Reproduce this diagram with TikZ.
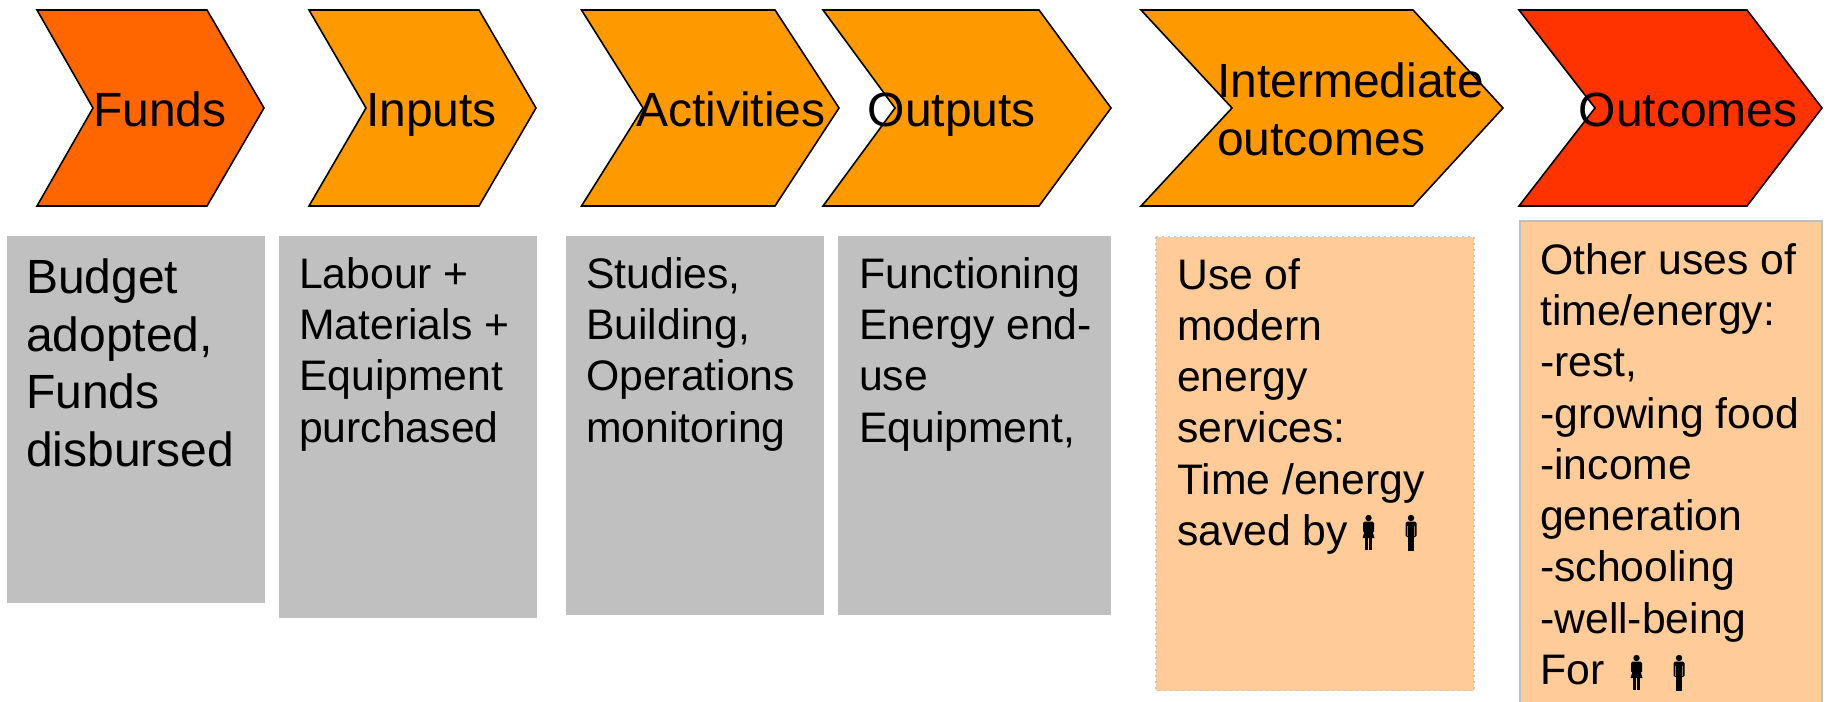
\documentclass[tikz,border=0pt]{standalone}
\usepackage{fontspec}
\setmainfont{Liberation Sans}
\definecolor{fundsfill}{HTML}{FF6600}
\definecolor{midfill}{HTML}{FF9900}
\definecolor{endfill}{HTML}{FF3300}
\definecolor{panelgray}{HTML}{C0C0C0}
\definecolor{panelpeach}{HTML}{FFCC99}
\definecolor{dotline}{HTML}{C4C4CC}
\tikzset{
  chev/.style={draw=black,line width=1.6pt,line join=miter},
  bigtext/.style={anchor=base west,inner sep=0pt,align=left,font=\fontsize{48}{57.5}\selectfont},
  smalltext/.style={anchor=base west,inner sep=0pt,align=left,font=\fontsize{42.7}{51.3}\selectfont},
  graybox/.style={fill=panelgray},
  peachbox/.style={fill=panelpeach},
  womanicon/.pic={
    \fill[black] (0,0) circle (3.2);
    \fill[black,rounded corners=1.5] (-5.5,3.7) rectangle (5.5,15);
    \fill[black] (-3.5,12) -- (3.5,12) -- (6,20) -- (-6,20) -- cycle;
    \fill[black] (-3.4,19) rectangle (-0.5,32);
    \fill[black] (0.5,19) rectangle (3.4,32);
  },
  manicon/.pic={
    \fill[black] (0,0) circle (3.2);
    \fill[black,rounded corners=1.5] (-5.5,3.7) rectangle (5.5,19);
    \fill[black] (-3.4,15) rectangle (-0.4,32.5);
    \fill[black] (0.4,15) rectangle (3.4,32.5);
    \draw[panelpeach!60!black,line width=.6pt] (-3.6,8) -- (-3.6,18) (3.6,8) -- (3.6,18);
  }
}
\begin{document}
\begin{tikzpicture}[x=1pt,y=-1pt]
\useasboundingbox (0,0) rectangle (1827,701);
\clip (0,0) rectangle (1827,701);
% chevrons
\path[chev,fill=fundsfill] (37,10) -- (207,10) -- (264,108) -- (207,206) -- (37,206) -- (93,108) -- cycle;
\path[chev,fill=midfill] (309,10) -- (479,10) -- (536,108) -- (479,206) -- (309,206) -- (366,108) -- cycle;
\path[chev,fill=midfill] (581.5,10) -- (775,10) -- (839,108) -- (775,206) -- (581.5,206) -- (643,108) -- cycle;
\path[chev,fill=midfill] (823,10) -- (1039,10) -- (1111,108) -- (1039,206) -- (823,206) -- (895,108) -- cycle;
\path[chev,fill=midfill] (1141,10) -- (1413,10) -- (1503,108) -- (1413,206) -- (1141,206) -- (1232,108) -- cycle;
\path[chev,fill=endfill] (1519,10) -- (1747,10) -- (1822,108) -- (1747,206) -- (1519,206) -- (1595,108) -- cycle;
% chevron labels
\node[bigtext] (lfunds) at (93,126) {Funds};
\node[bigtext] (linputs) at (366,126) {Inputs};
\node[bigtext] (lactivities) at (636,126) {Activities};
\node[bigtext] (loutputs) at (867.5,126) {Outputs};
\node[bigtext] (lintermediate) at (1217,155) {Intermediate\\outcomes};
\node[bigtext] (loutcomes) at (1578.5,126) {Outcomes};
% panels
\fill[graybox] (7,236) rectangle (265,603);
\fill[graybox] (279,236) rectangle (537,618);
\fill[graybox] (566,236) rectangle (824,615);
\fill[graybox] (838,236) rectangle (1111,615);
\path[peachbox,draw=dotline,dash pattern=on 2pt off 4pt,line width=1.5pt] (1156,236.7) rectangle (1474,690.7);
\path[peachbox,draw=panelgray,line width=2pt] (1519.5,221) rectangle (1822,720);
% panel texts
\node[bigtext] (tfunds) at (26,466) {Budget\\adopted,\\Funds\\disbursed};
\node[smalltext] (tinputs) at (299,442) {Labour +\\Materials +\\Equipment\\purchased};
\node[smalltext] (tactivities) at (586,442) {Studies,\\Building,\\Operations\\monitoring};
\node[smalltext] (toutputs) at (859,442) {Functioning\\Energy end-\\use\\Equipment,};
\node[smalltext] (tintermediate) at (1177,545.5) {Use of\\modern\\energy\\services:\\Time /energy\\saved by};
\node[smalltext] (toutcomes) at (1540,684.5) {Other uses of\\time/energy:\\-rest,\\-growing food\\-income\\generation\\-schooling\\-well-being\\For};
% icons
\pic at (1368.5,518) {womanicon};
\pic at (1411,518) {manicon};
\pic at (1636.5,658) {womanicon};
\pic at (1679,658) {manicon};
\end{tikzpicture}
\end{document}
